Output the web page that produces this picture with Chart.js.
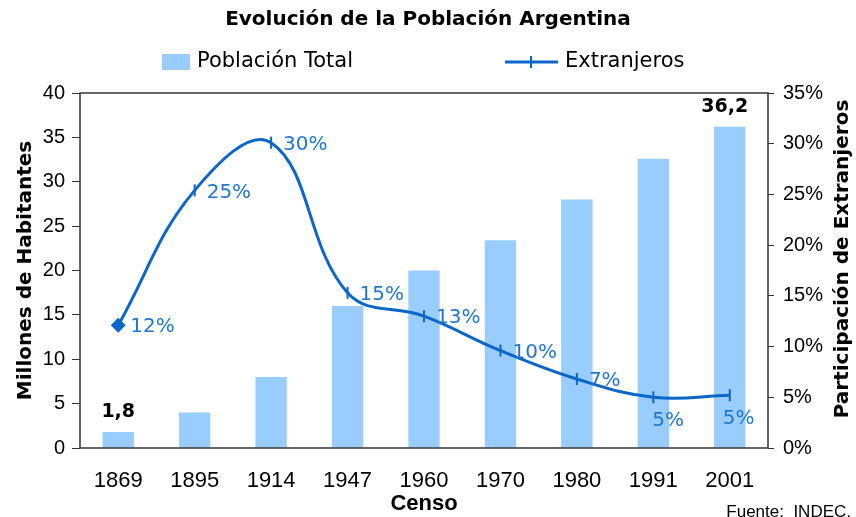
<!DOCTYPE html>
<html>
<head>
<meta charset="utf-8">
<script src="https://cdn.jsdelivr.net/npm/chart.js@4.4.1/dist/chart.umd.min.js"></script>
<style>
  html, body { margin: 0; padding: 0; background: #fff; }
  #wrap { width: 856px; height: 517px; }
</style>
</head>
<body>
<div id="wrap"><canvas id="chart"></canvas></div>
<script>
    "use strict";

    // Datos
    var censos = ["1869", "1895", "1914", "1947", "1960", "1970", "1980", "1991", "2001"];
    var poblacion = [1.8, 4.0, 8.0, 16.0, 20.0, 23.4, 28.0, 32.6, 36.2];
    var extranjeros = [12.1, 25.4, 30.1, 15.3, 13.0, 9.6, 6.8, 5.0, 5.2];
    var etiquetasPoblacion = ["1,8", "", "", "", "", "", "", "", "36,2"];

    var azulBarra = "#99ccff";
    var azulLinea = "#0a66c8";
    var azulTexto = "#2277d0";
    var fuente = "'DejaVu Sans', Verdana, sans-serif";
    var fuenteTicks = "'Liberation Sans', Arial, sans-serif";

    // Leyenda dibujada a mano (los items estan muy separados)
    var leyenda = {
        id: "leyenda",
        afterDraw: function (chart) {
            var ctx = chart.ctx;
            ctx.save();
            ctx.fillStyle = azulBarra;
            ctx.fillRect(162, 54, 28, 16);
            ctx.strokeStyle = azulLinea;
            ctx.lineWidth = 3;
            ctx.beginPath();
            ctx.moveTo(505, 62);
            ctx.lineTo(558, 62);
            ctx.stroke();
            ctx.lineWidth = 2;
            ctx.beginPath();
            ctx.moveTo(531, 56);
            ctx.lineTo(531, 68);
            ctx.stroke();
            ctx.fillStyle = "#000";
            ctx.font = "21px " + fuente;
            ctx.textBaseline = "middle";
            ctx.textAlign = "left";
            ctx.fillText("Población Total", 197, 62);
            ctx.fillText("Extranjeros", 565, 62);
            ctx.restore();
        }
    };

    // Borde del area, etiquetas y textos extra
    var extras = {
        id: "extras",
        afterDatasetsDraw: function (chart) {
            var ctx = chart.ctx;
            var area = chart.chartArea;
            ctx.save();
            ctx.strokeStyle = "#333";
            ctx.lineWidth = 1.5;
            ctx.strokeRect(area.left, area.top, area.right - area.left, area.bottom - area.top);

            // etiquetas de barras
            var barras = chart.getDatasetMeta(1).data;
            ctx.fillStyle = "#000";
            ctx.font = "bold 19px " + fuente;
            ctx.textAlign = "center";
            ctx.textBaseline = "bottom";
            barras.forEach(function (b, i) {
                if (etiquetasPoblacion[i]) {
                    ctx.fillText(etiquetasPoblacion[i], b.x - (i === 8 ? 5 : 0), b.y - 10);
                }
            });

            // etiquetas de la linea
            var puntos = chart.getDatasetMeta(0).data;
            ctx.fillStyle = azulTexto;
            ctx.font = "20px " + fuente;
            ctx.textAlign = "left";
            ctx.textBaseline = "middle";
            puntos.forEach(function (p, i) {
                var txt = Math.round(extranjeros[i]) + "%";
                if (i >= 7) {
                    ctx.fillText(txt, p.x - (i === 8 ? 7 : 1), p.y + 24);
                } else {
                    ctx.fillText(txt, p.x + 12, p.y + 2);
                }
            });

            // titulo del eje derecho
            ctx.fillStyle = "#000";
            ctx.font = "bold 20px " + fuente;
            ctx.textAlign = "center";
            ctx.textBaseline = "middle";
            ctx.translate(843, 259);
            ctx.rotate(-Math.PI / 2);
            ctx.fillText("Participación de Extranjeros", 0, 0);
            ctx.restore();

            ctx.save();
            ctx.fillStyle = "#000";
            ctx.font = "17px " + fuenteTicks;
            ctx.textAlign = "right";
            ctx.textBaseline = "middle";
            ctx.fillText("Fuente:  INDEC.", 851, 512);
            ctx.restore();
        }
    };

    var ctx1 = document.getElementById("chart").getContext("2d");
    var myChart1 = new Chart(ctx1, {
        type: "bar",
        data: {
            labels: censos,
            datasets: [{
                    type: "line",
                    label: "Extranjeros",
                    data: extranjeros,
                    yAxisID: "y1",
                    borderColor: azulLinea,
                    backgroundColor: azulLinea,
                    borderWidth: 3,
                    tension: 0.4,
                    pointStyle: function (c) { return c.dataIndex === 0 ? "rectRot" : "line"; },
                    pointRotation: function (c) { return c.dataIndex === 0 ? 0 : 90; },
                    pointRadius: 6,
                    pointBorderWidth: 2,
                    order: 0
                },
                {
                    label: "Población Total",
                    data: poblacion,
                    yAxisID: "y",
                    backgroundColor: azulBarra,
                    barPercentage: 0.41,
                    categoryPercentage: 1,
                    order: 1
                }
            ]
        },
        options: {
            responsive: true,
            maintainAspectRatio: false,
            animation: false,
            layout: { padding: 0 },
            plugins: {
                legend: { display: false },
                tooltip: { enabled: false },
                title: {
                    display: true,
                    text: "Evolución de la Población Argentina",
                    color: "#000",
                    font: { family: fuente, size: 20, weight: "bold", lineHeight: 1.2 },
                    padding: { top: 8, bottom: 61 }
                }
            },
            scales: {
                x: {
                    offset: true,
                    grid: { display: false, drawTicks: false },
                    border: { display: false },
                    ticks: {
                        color: "#000",
                        padding: 20,
                        font: { family: fuenteTicks, size: 22 }
                    },
                    title: {
                        display: true,
                        text: "Censo",
                        color: "#000",
                        font: { family: fuenteTicks, size: 22, weight: "bold", lineHeight: 1.2 },
                        padding: 0
                    },
                    afterFit: function (s) { s.height = 69; }
                },
                y: {
                    position: "left",
                    min: 0,
                    max: 40,
                    ticks: {
                        stepSize: 5,
                        color: "#000",
                        padding: 7,
                        font: { family: fuenteTicks, size: 20 }
                    },
                    grid: { drawOnChartArea: false, tickLength: 8, color: "#333" },
                    border: { display: false },
                    title: {
                        display: true,
                        text: "Millones de Habitantes",
                        color: "#000",
                        font: { family: fuente, size: 20, weight: "bold", lineHeight: 1.2 },
                        padding: { top: 14, bottom: 0 }
                    },
                    afterFit: function (s) { s.width = 80; }
                },
                y1: {
                    position: "right",
                    min: 0,
                    max: 35,
                    ticks: {
                        stepSize: 5,
                        color: "#000",
                        padding: 9,
                        font: { family: fuenteTicks, size: 20 },
                        callback: function (v) { return v + "%"; }
                    },
                    grid: { drawOnChartArea: false, tickLength: 6, color: "#333" },
                    border: { display: false },
                    afterFit: function (s) { s.width = 88; }
                }
            }
        },
        plugins: [leyenda, extras]
    });
</script>
</body>
</html>
